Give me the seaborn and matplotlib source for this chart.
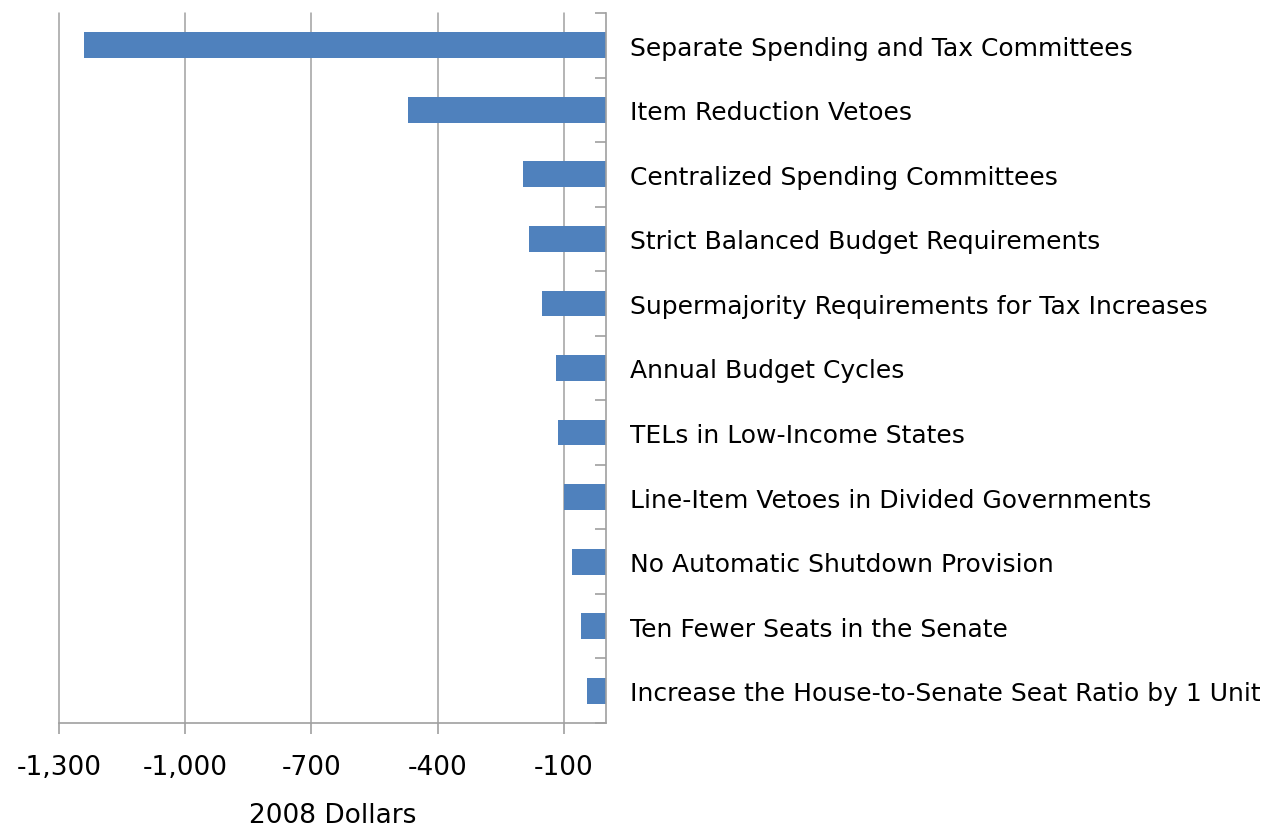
import matplotlib
matplotlib.use("Agg")
import matplotlib.pyplot as plt
import seaborn as sns
import pandas as pd
import numpy as np
from matplotlib.ticker import FuncFormatter, FixedLocator

categories = [
    "Separate Spending and Tax Committees",
    "Item Reduction Vetoes",
    "Centralized Spending Committees",
    "Strict Balanced Budget Requirements",
    "Supermajority Requirements for Tax Increases",
    "Annual Budget Cycles",
    "TELs in Low-Income States",
    "Line-Item Vetoes in Divided Governments",
    "No Automatic Shutdown Provision",
    "Ten Fewer Seats in the Senate",
    "Increase the House-to-Senate Seat Ratio by 1 Unit",
]
values = [-1240, -470, -198, -182, -151, -119, -113, -99, -81, -59, -45]
x_ticks = [-1300, -1000, -700, -400, -100]
x_label = "2008 Dollars"

sns.set_theme(style="white")
plt.rcParams["font.family"] = ["DejaVu Sans"]

df = pd.DataFrame({"category": categories, "value": values})

fig = plt.figure(figsize=(12.64, 8.28), dpi=100)
ax = fig.add_axes([59 / 1264, 104 / 828, 547 / 1264, 710 / 828])

sns.barplot(data=df, x="value", y="category", orient="h", color="#4F81BD",
            saturation=1, width=0.4, linewidth=0, ax=ax, order=categories)

ax.set_xlim(-1300, 0)
ax.set_ylim(len(categories) - 0.5, -0.5)
ax.xaxis.set_major_locator(FixedLocator(x_ticks))
ax.xaxis.set_major_formatter(FuncFormatter(lambda v, p: f"{int(v):,}"))
ax.grid(axis="x", color="#A0A0A0", linewidth=1.1)
ax.set_axisbelow(True)
for gl in ax.get_xgridlines():
    gl.set_clip_on(False)

for s in ["top", "left"]:
    ax.spines[s].set_visible(False)
for s in ["bottom", "right"]:
    ax.spines[s].set_color("#A0A0A0")
    ax.spines[s].set_linewidth(1.2)

ax.yaxis.tick_right()
ax.tick_params(axis="y", which="major", length=0, pad=17, labelsize=18, labelcolor="black")
ax.yaxis.set_minor_locator(FixedLocator(np.arange(-0.5, len(categories), 1.0)))
ax.tick_params(axis="y", which="minor", right=True, left=False, direction="in",
               length=8, width=1.2, color="#A0A0A0")
ax.tick_params(axis="x", which="major", bottom=True, direction="out", length=8,
               width=1.2, color="#A0A0A0", pad=14, labelsize=19, labelcolor="black")

ax.set_ylabel("")
ax.set_xlabel(x_label, fontsize=19, color="black", labelpad=16)

fig.savefig("out.png", dpi=100)
